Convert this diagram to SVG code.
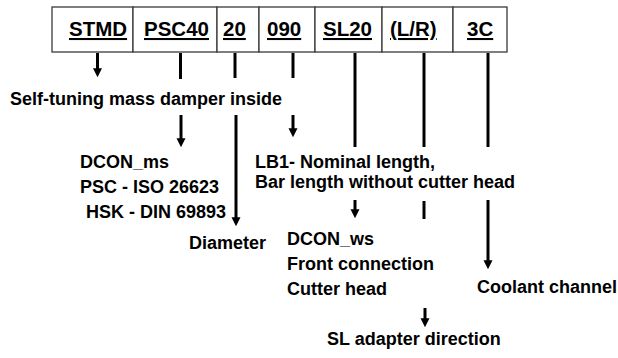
<svg xmlns="http://www.w3.org/2000/svg" width="618" height="358" viewBox="0 0 618 358">
<style>
.cell{fill:#fff;stroke:#3a3a3a;stroke-width:1.3}
.code{font-family:"Liberation Sans",Arial,sans-serif;font-weight:bold;font-size:20.5px;fill:#000;text-decoration:underline}
.lbl{font-family:"Liberation Sans",Arial,sans-serif;font-weight:bold;font-size:18px;fill:#000}
.ln{stroke:#000;stroke-width:3;fill:none}
.ar{stroke:#000;stroke-width:3;fill:none;marker-end:url(#ah)}
</style>
<defs>
<marker id="ah" viewBox="0 0 10 10" refX="2" refY="5" markerWidth="9" markerHeight="10" markerUnits="userSpaceOnUse" orient="auto">
<path d="M0,0 L10,5 L0,10 z" fill="#000"/>
</marker>
</defs>
<g id="code-table">
<g id="STMD"><rect class="cell" x="52" y="7" width="81" height="45"/><text class="code" x="69" y="36">STMD</text></g>
<g id="PSC40"><rect class="cell" x="133" y="7" width="84" height="45"/><text class="code" x="144" y="36">PSC40</text></g>
<g id="c20"><rect class="cell" x="217" y="7" width="42" height="45"/><text class="code" x="223" y="36">20</text></g>
<g id="c090"><rect class="cell" x="259" y="7" width="56" height="45"/><text class="code" x="267" y="36">090</text></g>
<g id="SL20"><rect class="cell" x="315" y="7" width="67" height="45"/><text class="code" x="323" y="36">SL20</text></g>
<g id="LR"><rect class="cell" x="382" y="7" width="71" height="45"/><text class="code" x="390" y="36">(L/R)</text></g>
<g id="c3C"><rect class="cell" x="453" y="7" width="54" height="45"/><text class="code" x="467" y="36">3C</text></g>
</g>
<g id="connectors">
<line class="ar" x1="97.5" y1="53" x2="97.5" y2="70"/>
<line class="ln" x1="180.5" y1="53" x2="180.5" y2="79"/>
<line class="ar" x1="181" y1="115" x2="181" y2="140"/>
<line class="ln" x1="235" y1="53" x2="235" y2="78"/>
<line class="ar" x1="236" y1="115" x2="236" y2="219"/>
<line class="ln" x1="293" y1="53" x2="293" y2="78"/>
<line class="ar" x1="293" y1="115" x2="293" y2="130"/>
<line class="ln" x1="355" y1="53" x2="355" y2="147"/>
<line class="ar" x1="355" y1="200" x2="355" y2="211"/>
<line class="ln" x1="424" y1="53" x2="424" y2="147"/>
<line class="ln" x1="424" y1="201" x2="424" y2="219"/>
<line class="ar" x1="425" y1="308" x2="425" y2="320"/>
<line class="ln" x1="488" y1="53" x2="488" y2="147"/>
<line class="ar" x1="488" y1="200" x2="488" y2="262"/>
</g>
<g id="label-stmd"><text class="lbl" x="10" y="105">Self-tuning mass damper inside</text></g>
<g id="label-psc">
<text class="lbl" x="80" y="168">DCON_ms</text>
<text class="lbl" x="80" y="193">PSC - ISO 26623</text>
<text class="lbl" x="86" y="218">HSK - DIN 69893</text>
</g>
<g id="label-diameter"><text class="lbl" x="189" y="249">Diameter</text></g>
<g id="label-lb1">
<text class="lbl" x="255" y="168">LB1- Nominal length,</text>
<text class="lbl" x="255" y="188">Bar length without cutter head</text>
</g>
<g id="label-dcon-ws">
<text class="lbl" x="287" y="245">DCON_ws</text>
<text class="lbl" x="287" y="270">Front connection</text>
<text class="lbl" x="287" y="295">Cutter head</text>
</g>
<g id="label-coolant"><text class="lbl" x="477" y="293">Coolant channel</text></g>
<g id="label-sl"><text class="lbl" x="327" y="345">SL adapter direction</text></g>
</svg>
